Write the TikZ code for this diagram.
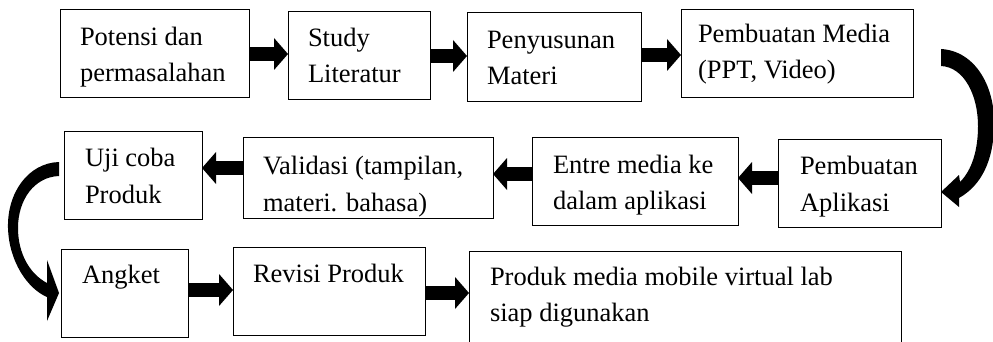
\documentclass[tikz,border=0pt]{standalone}
\usepackage{fontspec}
\setmainfont{Liberation Serif}
\usetikzlibrary{arrows.meta,calc}
\newcommand{\bt}[5]{\parbox[t][#2][t]{#1}{\raggedright\leftskip=#4\relax\rule{0pt}{#3}#5}}
\begin{document}
\begin{tikzpicture}[x=1pt,y=-1pt,
  box/.style={draw, line width=0.8pt, inner sep=0pt, outer sep=0pt, anchor=north west,
              font=\fontsize{26.5}{36}\selectfont},
  barrow/.style={line width=14pt, -{Triangle[length=14pt,width=32pt,line width=0pt]}},
  curvearrow/.style={fill=black}]
\useasboundingbox (0,0) rectangle (993,342);
% row 1
\node[box] (A) at (60,9)   {\bt{189pt}{88pt}{37pt}{20pt}{Potensi dan\\permasalahan}};
\node[box] (B) at (288,11) {\bt{142pt}{88pt}{36pt}{20pt}{Study\\Literatur}};
\node[box] (C) at (467,12) {\bt{174pt}{89pt}{37pt}{20pt}{Penyusunan\\Materi}};
\node[box] (D) at (681,9)  {\bt{232pt}{88pt}{34pt}{17pt}{Pembuatan Media\\(PPT, Video)}};
% row 2
\node[box] (E) at (64,131)  {\bt{138pt}{88pt}{36pt}{21pt}{Uji coba\\Produk}};
\node[box] (F) at (243,137) {\bt{250pt}{81pt}{38pt}{20pt}{Validasi (tampilan,\\materi. bahasa)}};
\node[box] (G) at (532,137) {\bt{206pt}{88pt}{36pt}{21pt}{Entre media ke\\dalam aplikasi}};
\node[box] (H) at (778,139) {\bt{163pt}{88pt}{36pt}{22pt}{Pembuatan\\Aplikasi}};
% row 3
\node[box] (I) at (61,249)  {\bt{127pt}{88pt}{34pt}{21pt}{Angket}};
\node[box] (J) at (233,247) {\bt{192pt}{88pt}{35pt}{20pt}{Revisi Produk}};
\node[box] (K) at (469,251) {\bt{432pt}{100pt}{34pt}{21pt}{Produk media mobile virtual lab\\siap digunakan}};
% straight block arrows
\draw[barrow] ([yshift=-1pt]A.east) -- ([yshift=-1pt]A.east -| B.west);
\draw[barrow] ([yshift=-1pt]B.east) -- ([yshift=-1pt]B.east -| C.west);
\draw[barrow] ([yshift=1.5pt]C.east) -- ([yshift=1.5pt]C.east -| D.west);
\draw[barrow] ([yshift=5pt]H.west) -- ([yshift=5pt]H.west -| G.east);
\draw[barrow] ([yshift=7pt]G.west) -- ([yshift=7pt]G.west -| F.east);
\draw[barrow] ([yshift=9.5pt]F.west) -- ([yshift=9.5pt]F.west -| E.east);
\draw[barrow] ([yshift=3pt]I.east) -- ([yshift=3pt]I.east -| J.west);
\draw[barrow] ([yshift=-2pt]J.east) -- ([yshift=-2pt]J.east -| K.west);
% curved arrow D -> H (right side)
\fill[curvearrow] (941,49) .. controls (976,51) and (996,88) .. (994,128)
  .. controls (993,160) and (982,185) .. (959,198)
  -- (959,207) -- (941,192) -- (959,175) -- (960,182)
  .. controls (972,170) and (978,150) .. (978,126)
  .. controls (978,95) and (964,67) .. (941,66) -- cycle;
% curved arrow E -> I (left side)
\fill[curvearrow] (59,162) .. controls (28,163) and (7,193) .. (8,228)
  .. controls (9,262) and (28,289) .. (47,297)
  -- (47,321) -- (59,293) -- (47,260) -- (47,283)
  .. controls (30,274) and (18,254) .. (18,228)
  .. controls (18,200) and (34,177) .. (59,176) -- cycle;
\end{tikzpicture}
\end{document}
